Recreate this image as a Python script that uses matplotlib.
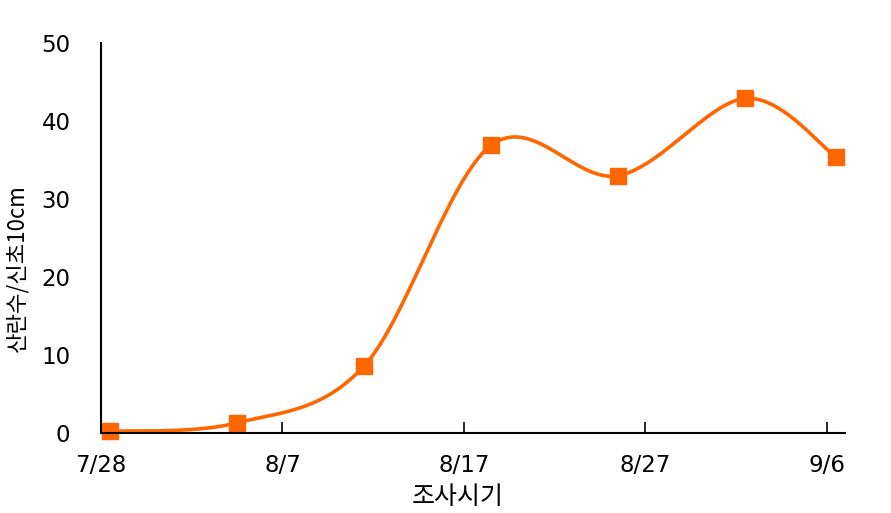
import numpy as np
import pandas as pd
import matplotlib
matplotlib.use("Agg")
import matplotlib.pyplot as plt

plt.rcParams['font.family'] = ['DejaVu Sans', 'Noto Sans CJK KR']

# survey dates and egg counts per 10cm shoot
dates = ['2023-07-28', '2023-08-04', '2023-08-11', '2023-08-18',
         '2023-08-25', '2023-09-01', '2023-09-06']
eggs = [0.2, 1.3, 8.6, 36.9, 33.0, 42.9, 35.4]
tick_dates = ['2023-07-28', '2023-08-07', '2023-08-17', '2023-08-27', '2023-09-06']
tick_labels = ['7/28', '8/7', '8/17', '8/27', '9/6']

start = pd.Timestamp(dates[0])
# points sit at the middle of each day, like a spreadsheet date axis
x = np.array([(pd.Timestamp(d) - start).days + 0.5 for d in dates])
y = np.array(eggs)
ticks = [(pd.Timestamp(d) - start).days for d in tick_dates]


def smooth(px, py, n=40):
    # Catmull-Rom style smoothing through every point
    px = np.concatenate([[px[0]], px, [px[-1]]])
    py = np.concatenate([[py[0]], py, [py[-1]]])
    xs, ys = [], []
    t = np.linspace(0, 1, n)
    for i in range(1, len(px) - 2):
        p0 = np.array([px[i], py[i]])
        p3 = np.array([px[i + 1], py[i + 1]])
        c1 = p0 + (np.array([px[i + 1], py[i + 1]]) - np.array([px[i - 1], py[i - 1]])) / 6
        c2 = p3 - (np.array([px[i + 2], py[i + 2]]) - np.array([px[i], py[i]])) / 6
        b = ((1 - t) ** 3)[:, None] * p0 + (3 * (1 - t) ** 2 * t)[:, None] * c1 \
            + (3 * (1 - t) * t ** 2)[:, None] * c2 + (t ** 3)[:, None] * p3
        xs.extend(b[:, 0])
        ys.extend(b[:, 1])
    return np.array(xs), np.array(ys)


fig = plt.figure(figsize=(8.91, 5.13), dpi=100)
ax = fig.add_axes([0.1134, 0.156, 0.835, 0.760])

sx, sy = smooth(x, y)
ax.plot(sx, sy, color='#ff6600', lw=2.6, clip_on=False)
ax.plot(x, y, 's', color='#ff6600', ms=12, clip_on=False)

ax.set_xlim(0, 41)
ax.set_ylim(0, 50)
ax.set_xticks(ticks)
ax.set_xticklabels(tick_labels)
ax.set_yticks([0, 10, 20, 30, 40, 50])

for s in ['top', 'right']:
    ax.spines[s].set_visible(False)
for s in ['left', 'bottom']:
    ax.spines[s].set_linewidth(1.5)

ax.tick_params(axis='x', direction='in', length=8, width=1.2, pad=15, labelsize=16.5)
ax.tick_params(axis='y', length=0, pad=22, labelsize=16.5)

fig.text(458 / 891, 1 - 497 / 513, '조사시기', fontsize=18,
         family=['Noto Sans CJK KR', 'DejaVu Sans'], ha='center', va='center')
fig.text(17 / 891, 1 - 268 / 513, '산란수/신초10cm', fontsize=16, rotation=90,
         family=['Noto Sans CJK KR', 'DejaVu Sans'], ha='center', va='center')

fig.savefig('out.png', dpi=100)
